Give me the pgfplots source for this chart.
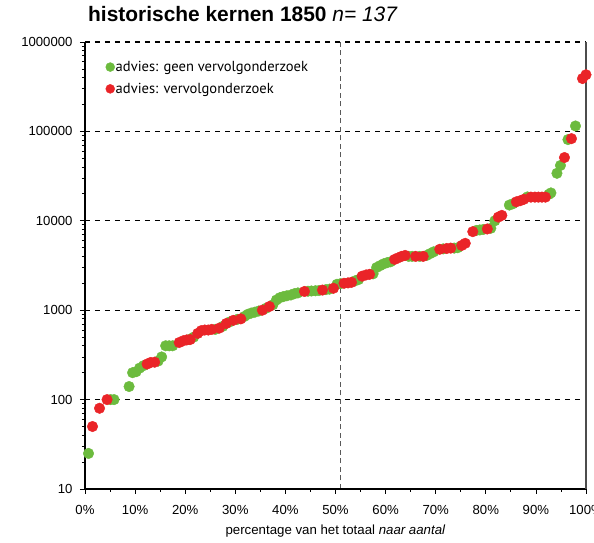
\documentclass[border=0pt]{standalone}
\usepackage{fontspec}
\setmainfont{Liberation Sans}
\newfontfamily\legfont{PT Sans}
\usepackage{pgfplots}
\pgfplotsset{compat=1.18}
\definecolor{cgreen}{RGB}{108,187,62}
\definecolor{cred}{RGB}{234,36,40}
\begin{document}
\begin{tikzpicture}
\begin{axis}[
  scale only axis, width=501bp, height=447bp,
  ymode=log, xmin=0, xmax=100, ymin=10, ymax=1000000,
  axis line style={draw=none},
  xtick={0,10,...,100}, minor x tick num=1,
  xticklabels={0\%,10\%,20\%,30\%,40\%,50\%,60\%,70\%,80\%,90\%,100\%},
  ytick={10,100,1000,10000,100000,1000000},
  yticklabels={10,100,1000,10000,100000,1000000},
  tick align=outside, tick pos=left,
  major tick length=5bp, minor tick length=3bp,
  tick style={black, line width=0.8pt},
  ymajorgrids, major grid style={black, line width=1.4pt, dash pattern=on 5bp off 5bp},
  /pgf/number format/assume math mode=true,
  tick label style={font=\fontsize{13.2}{15}\selectfont},
  yticklabel style={font=\fontsize{13.2}{15}\selectfont, xshift=-4bp},
  xticklabel style={font=\fontsize{13.2}{15}\selectfont, yshift=-8bp},
  xlabel={percentage van het totaal \textit{naar aantal}},
  xlabel style={font=\fontsize{13.3}{15}\selectfont, yshift=-3bp},
  legend style={draw=none, fill=none, at={(0.039,0.962)}, anchor=north west,
    font=\legfont\fontsize{14.6}{16}\selectfont, row sep=8bp, inner sep=1bp,
    nodes={inner sep=1bp}},
  legend cell align=left,
  legend image code/.code={\draw[mark repeat=2,mark phase=2,#1] plot coordinates {(0cm,0cm) (0.15cm,0cm) (0.3cm,0cm)};},
  legend image post style={mark size=4.5bp},
  clip=false,
]
\addplot[gray!70!black, line width=0.9pt, dash pattern=on 5bp off 3.5bp, forget plot] coordinates {(51,10) (51,1000000)};
\addplot[only marks, mark=*, mark size=5.3bp, cgreen, mark options={draw=cgreen, fill=cgreen}]
coordinates {
(0.7,25) (5.1,100) (5.8,100) (8.8,140) (9.5,200) (10.2,205) (10.9,225) (11.7,240)
(14.6,270) (15.3,300) (16.1,400) (16.8,400) (17.5,400) (20.8,470) (21.7,500)
(26.0,610) (27.5,660) (28.9,740) (30.4,790) (31.8,850) (32.5,900) (33.2,930) (33.9,950) (34.7,980)
(36.1,1050) (37.5,1150) (38.2,1300) (38.9,1380) (39.6,1420) (40.3,1450) (41.1,1480) (41.8,1530) (42.5,1560)
(44.5,1630) (45.2,1640) (46.0,1650) (46.7,1660) (48.1,1700) (48.8,1720)
(50.3,1950) (51.0,1980) (53.9,2130) (54.6,2200) (57.5,2550) (58.2,3000) (58.9,3150) (59.6,3300) (60.3,3400) (61.0,3480)
(64.6,4000) (65.3,4000) (66.8,4000) (68.2,4100) (68.9,4300) (69.6,4500) (71.5,4850) (73.7,4950) (74.4,5000)
(78.1,7800) (78.8,7900) (79.5,8000) (81.0,8250) (81.8,10000) (84.7,15000) (85.4,15500) (88.3,18500)
(92.6,19800) (93.0,20500) (94.2,34000) (94.9,41600) (96.4,81000) (97.9,115000)
};
\addlegendentry{advies: geen vervolgonderzoek}
\addplot[only marks, mark=*, mark size=5.3bp, cred, mark options={draw=cred, fill=cred}]
coordinates {
(1.5,50) (2.9,80) (4.4,100) (12.4,250) (13.1,260) (13.9,262)
(18.8,435) (19.6,455) (20.3,465) (21.0,470) (22.5,550) (23.2,590) (23.9,600) (24.6,600) (25.3,610)
(26.8,630) (28.2,710) (29.6,770) (31.1,800) (35.4,1000) (36.8,1100) (43.8,1620) (47.4,1680) (49.6,1760)
(51.7,2000) (52.5,2020) (53.2,2050) (55.3,2400) (56.1,2480) (56.8,2520)
(61.8,3700) (62.5,3850) (63.2,4000) (63.9,4100) (66.0,4000) (67.5,4000)
(70.8,4800) (72.2,4900) (73.0,4950) (75.2,5300) (75.9,5600) (77.4,7560) (80.3,8100)
(82.5,11000) (83.2,11500) (86.1,16300) (86.9,16800) (87.6,17400)
(89.0,18400) (89.8,18400) (90.5,18400) (91.2,18400) (91.9,18400)
(95.7,51000) (97.1,83000) (99.3,390000) (100,430000)
};
\addlegendentry{advies: vervolgonderzoek}
\draw[black, line width=1.4pt] (rel axis cs:0,1) -- (rel axis cs:0,0) -- (rel axis cs:1,0);
\draw[gray!60!black, line width=1.2pt] (rel axis cs:1,0) -- (rel axis cs:1,1);
\coordinate (sw) at (rel axis cs:0,0);
\coordinate (ne) at (rel axis cs:1,1);
\end{axis}
\node[anchor=base west, inner sep=0pt, font=\fontsize{21}{24}\selectfont] at ([xshift=3bp, yshift=20bp]sw |- ne)
  {\textbf{historische kernen 1850} \textit{n= 137}};
\pgfresetboundingbox
\useasboundingbox ([xshift=-85bp, yshift=-54bp]sw) rectangle ([xshift=8bp, yshift=42bp]ne);
\end{tikzpicture}
\end{document}
